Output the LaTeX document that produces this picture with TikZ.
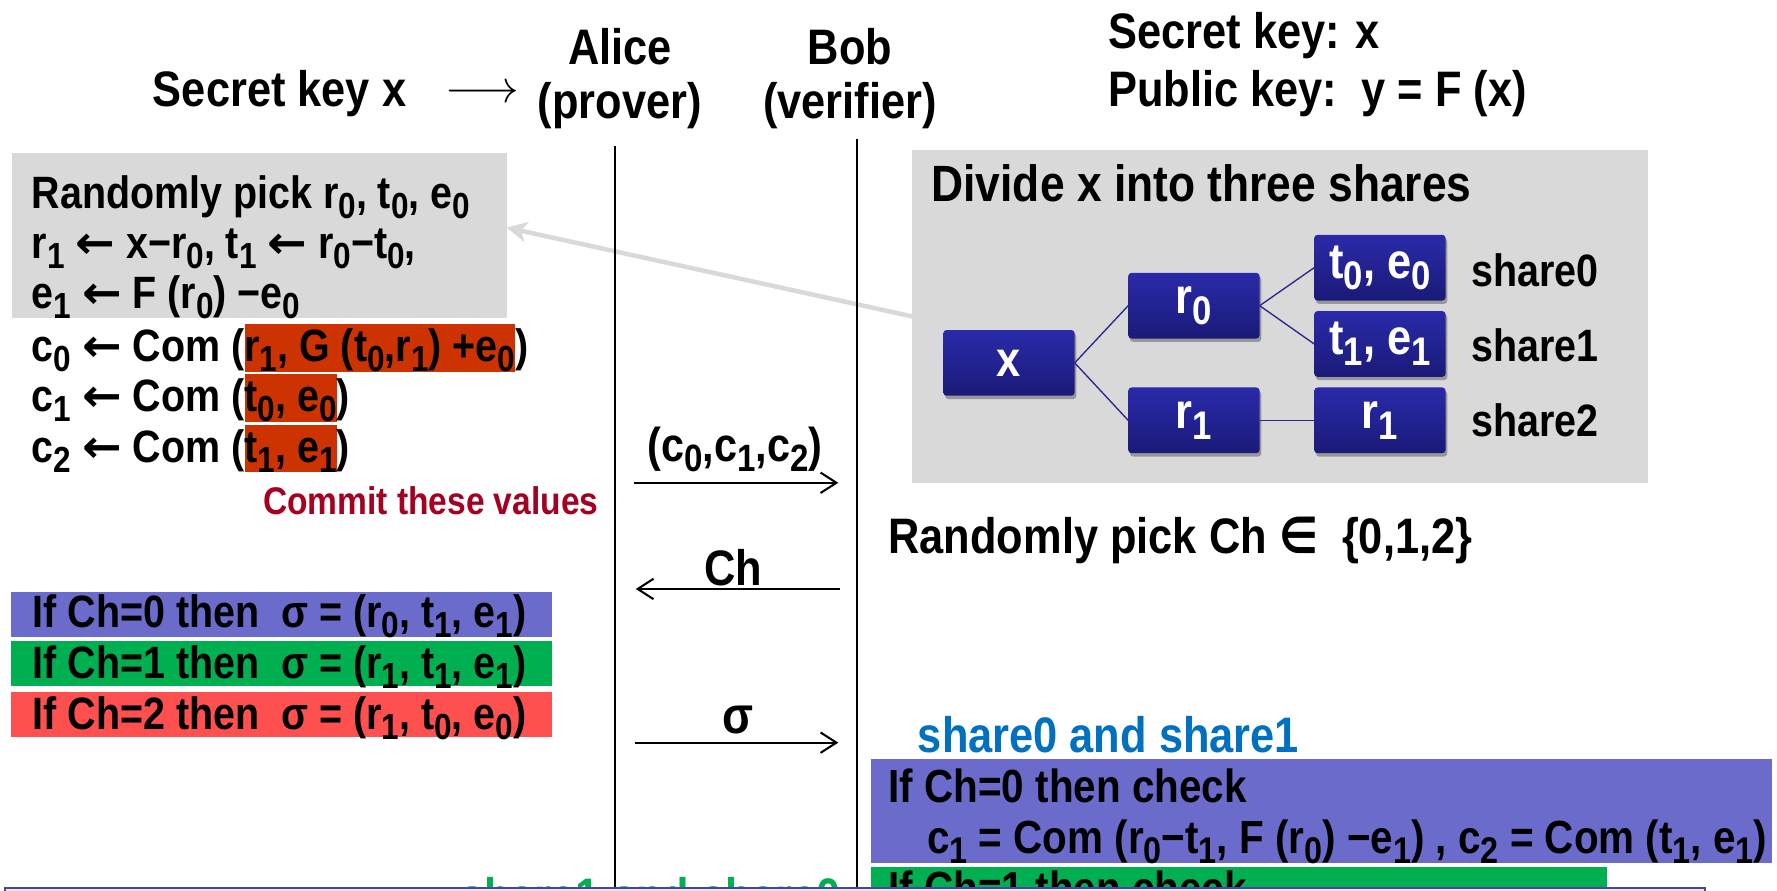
\documentclass[tikz,border=0pt]{standalone}
\usepackage{fontspec}
\setmainfont{Liberation Sans}[FakeStretch=0.87]
\newfontfamily\djv{DejaVu Sans}[FakeStretch=0.87]
\usetikzlibrary{arrows.meta,shadows,calc}
\definecolor{lgray}{HTML}{D9D9D9}
\definecolor{hlred}{HTML}{CC3300}
\definecolor{commitred}{HTML}{A50021}
\definecolor{barblue}{HTML}{6B6BCC}
\definecolor{bargreen}{HTML}{00B050}
\definecolor{barred}{HTML}{FF5050}
\definecolor{shareblue}{HTML}{0070C0}
\definecolor{boxtop}{HTML}{2A2AAA}
\definecolor{boxbot}{HTML}{1A1A78}
\definecolor{edgeblue}{HTML}{2A2A8C}
\definecolor{framebl}{HTML}{4646A8}
\newcommand\fs[1]{\fontsize{#1}{#1}\selectfont\bfseries}
\newcommand\lo[1]{\raisebox{-0.22em}{\scalebox{0.8}{#1}}}
\newcommand\la{\scalebox{1.2}[1]{\djv\bfseries ←}}
\newcommand\hlbox[1]{{\setlength\fboxsep{0pt}\colorbox{hlred}{\rule[-7.5pt]{0pt}{40.5pt}#1}}}
\begin{document}
\begin{tikzpicture}[x=1pt,y=-1pt,
  every node/.style={inner sep=0pt,outer sep=0pt},
  txt/.style={anchor=base west,font=\fs{40}},
  hdr/.style={anchor=base,font=\fs{44}},
  panel/.style={fill=lgray,draw=none,anchor=north west},
  bar/.style={draw=none,anchor=north west},
  sharebox/.style={rounded corners=3pt,top color=boxtop,bottom color=boxbot,draw=none,
     drop shadow={shadow xshift=1.5pt,shadow yshift=-3pt,opacity=0.3,fill=black},
     minimum width=116pt,minimum height=58pt,text=white,font=\fs{44}},
  tree/.style={draw=edgeblue,line width=1.2pt},
  lifeline/.style={draw=black,line width=1.8pt},
  msg/.style={draw=black,line width=1.8pt,-{Straight Barb[length=14pt,width=18pt,line width=1.8pt]}},
  hint/.style={draw=lgray,line width=4pt,-{Stealth[length=18pt,width=18pt,inset=5pt]}}
]
\useasboundingbox (0,0) rectangle (1568,786);
\clip (0,0) rectangle (1568,786);
% panels
\node[panel,minimum width=436.6pt,minimum height=145pt] (pickbox) at (10.4,135.3) {};
\node[panel,minimum width=649pt,minimum height=293.6pt] (divbox) at (805,132.4) {};
\draw[hint] (divbox.west) -- ($(pickbox.east)+(0,-7)$);
% headers
\node[anchor=base west,font=\fs{44}] (sk) at (135,94) {Secret key x};
\node[anchor=west] (skarrow) at (393,83) {\resizebox{65pt}{!}{$\longrightarrow$}};
\node[hdr] (alice) at (547,57) {Alice};
\node[hdr] (prover) at (547,105) {(prover)};
\node[hdr] (bob) at (750,57) {Bob};
\node[hdr] (verifier) at (750,105) {(verifier)};
\node[anchor=base west,font=\fs{44}] (seckey) at (978,43) {Secret key: x};
\node[anchor=base west,font=\fs{44}] (pubkey) at (978,94) {Public key:\ \ y = F (x)};
% left text
\node[txt] (l1) at (28,184) {Randomly pick r\lo{0}, t\lo{0}, e\lo{0}};
\node[txt] (l2) at (28,228) {r\lo{1} \la{} x−r\lo{0}, t\lo{1} \la{} r\lo{0}−t\lo{0},};
\node[txt] (l3) at (28,272) {e\lo{1} \la{} F (r\lo{0}) −e\lo{0}};
\node[txt] (l4) at (28,319) {c\lo{0} \la{} Com (\hlbox{r\lo{1}, G (t\lo{0},r\lo{1}) +e\lo{0}})};
\node[txt] (l5) at (28,363) {c\lo{1} \la{} Com (\hlbox{t\lo{0}, e\lo{0}})};
\node[txt] (l6) at (28,408) {c\lo{2} \la{} Com (\hlbox{t\lo{1}, e\lo{1}})};
\node[anchor=base east,font=\fs{34},text=commitred] (commit) at (528,454) {Commit these values};
% divide panel
\node[anchor=base west,font=\fs{45}] (divt) at (822,178) {Divide x into three shares};
\node[sharebox] (bx) at (890.3,320.2) {x};
\node[sharebox] (br0) at (1053.5,269.75) {r\lo{0}};
\node[sharebox] (br1) at (1053.5,370.9) {r\lo{1}};
\node[sharebox] (bt0) at (1217.6,236.2) {t\lo{0}, e\lo{0}};
\node[sharebox] (bt1) at (1217.6,303.5) {t\lo{1}, e\lo{1}};
\node[sharebox] (br1b) at (1217.6,370.9) {r\lo{1}};
\draw[tree] (bx.east) -- (br0.west);
\draw[tree] (bx.east) -- (br1.west);
\draw[tree] (br0.east) -- (bt0.west);
\draw[tree] (br0.east) -- (bt1.west);
\draw[tree] (br1.east) -- (br1b.west);
\node[txt] (s0) at (1298.5,253) {share0};
\node[txt] (s1) at (1298.5,319) {share1};
\node[txt] (s2) at (1298.5,385) {share2};
% right text
\node[anchor=base west,font=\fs{44}] (pickch) at (784,488) {Randomly pick Ch {\djv\bfseries ∈}\ \ \{0,1,2\}};
% left bars
\node[bar,fill=barblue,minimum width=477pt,minimum height=39pt] (bar0) at (10,522.7) {};
\node[bar,fill=bargreen,minimum width=477pt,minimum height=39.4pt] (bar1) at (10,565.6) {};
\node[bar,fill=barred,minimum width=477pt,minimum height=39.4pt] (bar2) at (10,610.6) {};
\node[txt] (if0) at (28.7,554) {If Ch=0 then\ \ σ = (r\lo{0}, t\lo{1}, e\lo{1})};
\node[txt] (if1) at (28.7,599) {If Ch=1 then\ \ σ = (r\lo{1}, t\lo{1}, e\lo{1})};
\node[txt] (if2) at (28.7,644) {If Ch=2 then\ \ σ = (r\lo{1}, t\lo{0}, e\lo{0})};
% right bars
\node[anchor=base west,font=\fs{44},text=shareblue] (sh01) at (810,664) {share0 and share1};
\node[bar,fill=barblue,minimum width=795.7pt,minimum height=91.8pt] (rbar0) at (768.3,670) {};
\node[txt,font=\fs{41}] (chk0) at (784,708) {If Ch=0 then check};
\node[txt,font=\fs{41}] (chk0b) at (818,753) {c\lo{1} = Com (r\lo{0}−t\lo{1}, F (r\lo{0}) −e\lo{1}) , c\lo{2} = Com (t\lo{1}, e\lo{1})};
\node[bar,fill=bargreen,minimum width=649.7pt,minimum height=40pt] (rbar1) at (768.3,765.3) {};
\node[txt,font=\fs{41}] (chk1) at (784,798) {If Ch=1 then check};
\node[anchor=base west,font=\fs{44},text=bargreen] (sh12) at (406,806) {share1 and share0};
% lifelines and messages
\coordinate (atop) at (543,129); \coordinate (abot) at (543,790);
\coordinate (btop) at (756,123); \coordinate (bbot) at (756,790);
\draw[lifeline] (atop) -- (abot);
\draw[lifeline] (btop) -- (bbot);
\coordinate (m1a) at (559.4,426); \coordinate (m1b) at (739.7,426);
\draw[msg] (m1a) -- (m1b);
\node[anchor=base,font=\fs{42}] (lc) at (648.5,407) {(c\lo{0},c\lo{1},c\lo{2})};
\coordinate (m2a) at (741,519.7); \coordinate (m2b) at (561,519.7);
\draw[msg] (m2a) -- (m2b);
\node[anchor=base,font=\fs{44}] (lch) at (647,517) {Ch};
\coordinate (m3a) at (560,655.3); \coordinate (m3b) at (739.7,655.3);
\draw[msg] (m3a) -- (m3b);
\node[anchor=base,font=\fs{46}] (lsig) at (651,647) {σ};
% next slide box edge
\node[bar,draw=framebl,line width=1.5pt,fill=framebl!12,minimum width=1500pt,minimum height=20pt] (nextbox) at (4.4,783.6) {};
\end{tikzpicture}
\end{document}
